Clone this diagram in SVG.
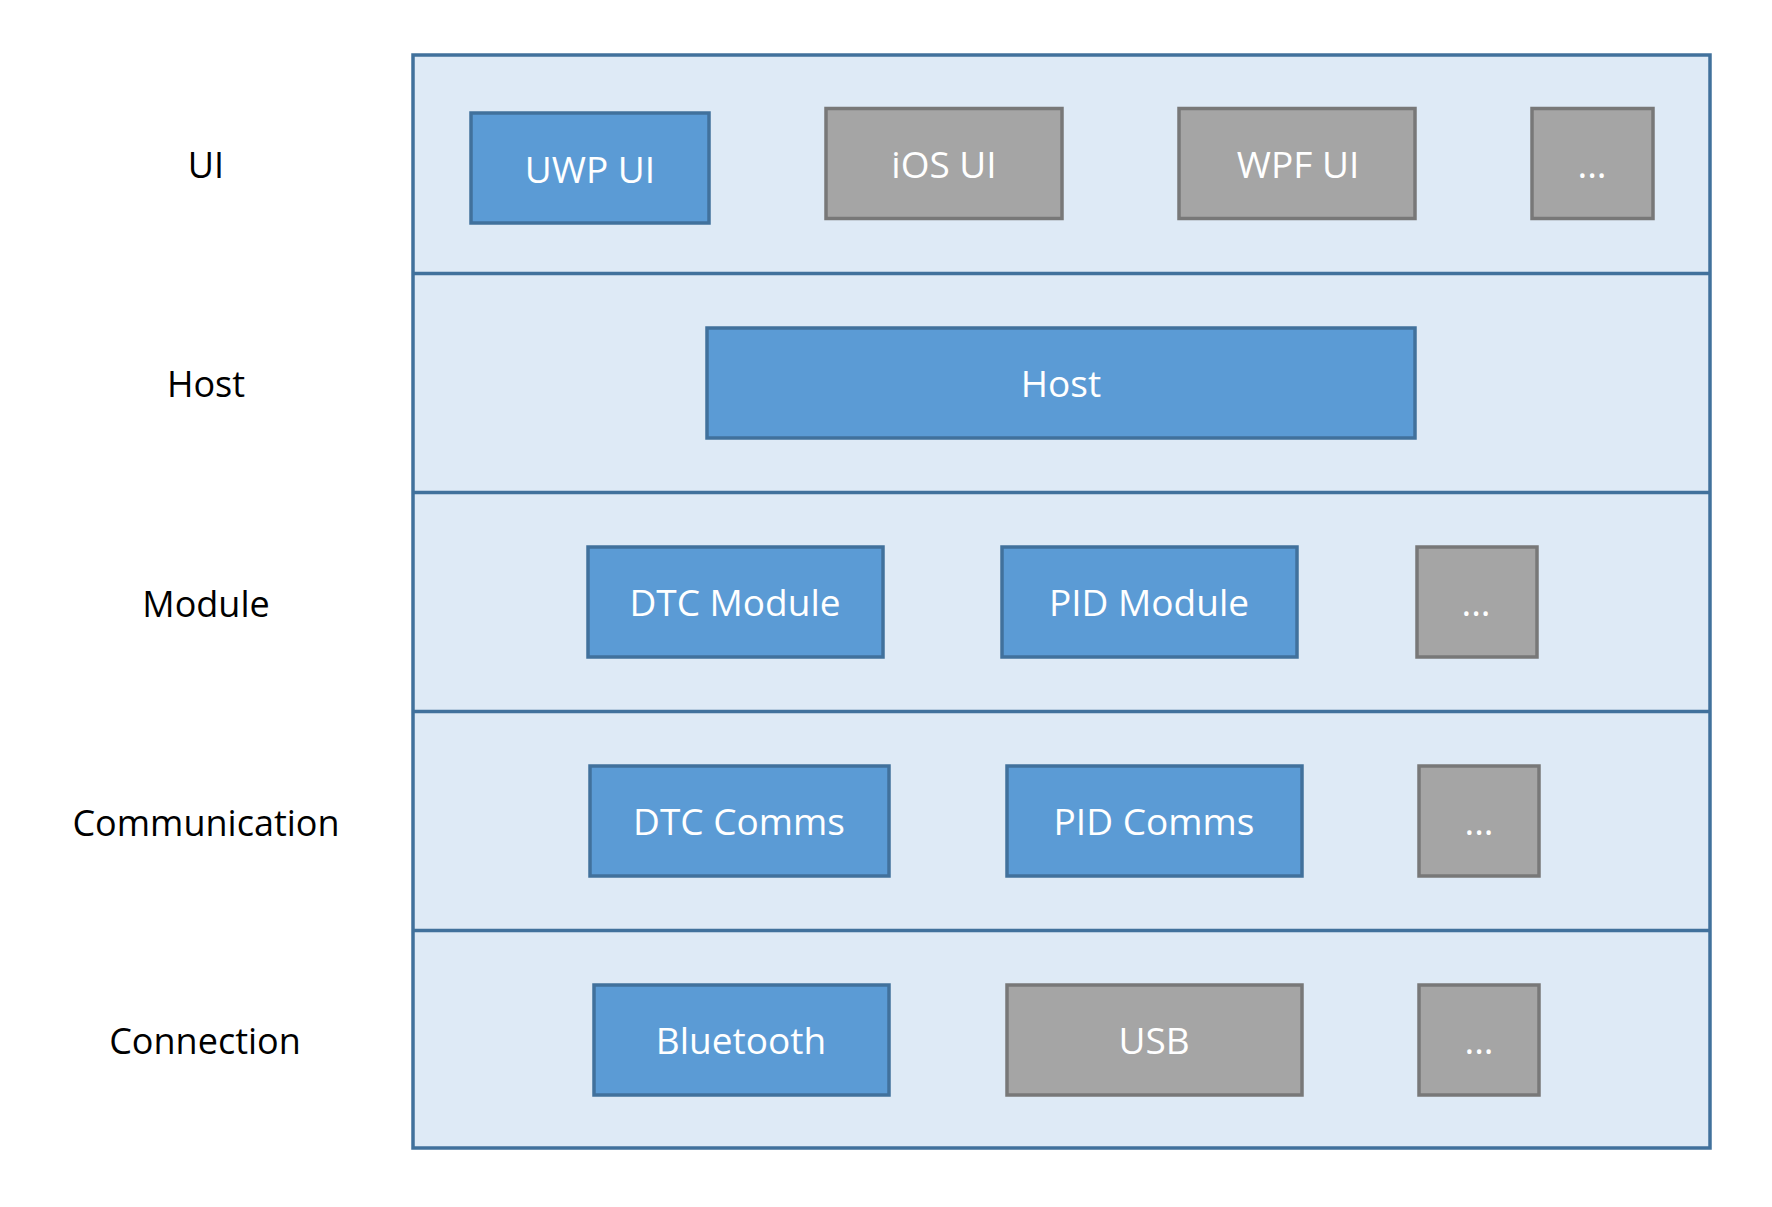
<svg xmlns="http://www.w3.org/2000/svg" width="1772" height="1207" viewBox="0 0 1772 1207">
<style>
text{font-family:"Open Sans","Noto Sans","Liberation Sans",sans-serif;font-size:36px;text-anchor:middle}
.lbl{fill:#000}
.frame{fill:#DEEAF6;stroke:#41719C;stroke-width:3.5}
.div{stroke:#41719C;stroke-width:3.5}
.blue rect{fill:#5B9BD5;stroke:#41719C;stroke-width:3.5}
.gray rect{fill:#A5A5A5;stroke:#787878;stroke-width:3.5}
.blue text,.gray text{fill:#fff;font-size:37px}
</style>
<rect width="1772" height="1207" fill="#fff"/>
<g id="layers">
<rect class="frame" x="413" y="55" width="1297" height="1093"/>
<line class="div" x1="413" y1="273.5" x2="1710" y2="273.5"/>
<line class="div" x1="413" y1="492.5" x2="1710" y2="492.5"/>
<line class="div" x1="413" y1="711.5" x2="1710" y2="711.5"/>
<line class="div" x1="413" y1="930.5" x2="1710" y2="930.5"/>
</g>
<g id="labels">
<text class="lbl" x="206" y="178">UI</text>
<text class="lbl" x="206" y="397">Host</text>
<text class="lbl" x="206" y="617">Module</text>
<text class="lbl" x="206" y="836">Communication</text>
<text class="lbl" x="205" y="1054">Connection</text>
</g>
<g id="uwp-ui" class="blue"><rect x="471" y="113" width="238" height="110"/><text x="590" y="183">UWP UI</text></g>
<g id="ios-ui" class="gray"><rect x="826" y="108.5" width="236" height="110"/><text x="944" y="178">iOS UI</text></g>
<g id="wpf-ui" class="gray"><rect x="1179" y="108.5" width="236" height="110"/><text x="1298" y="178">WPF UI</text></g>
<g id="ui-more" class="gray"><rect x="1532" y="108.5" width="121" height="110"/><text x="1592" y="178">...</text></g>
<g id="host" class="blue"><rect x="707" y="328" width="708" height="110"/><text x="1061" y="397">Host</text></g>
<g id="dtc-module" class="blue"><rect x="588" y="547" width="295" height="110"/><text x="735" y="616">DTC Module</text></g>
<g id="pid-module" class="blue"><rect x="1002" y="547" width="295" height="110"/><text x="1149" y="616">PID Module</text></g>
<g id="module-more" class="gray"><rect x="1417" y="547" width="120" height="110"/><text x="1476" y="616">...</text></g>
<g id="dtc-comms" class="blue"><rect x="590" y="766" width="299" height="110"/><text x="739" y="835">DTC Comms</text></g>
<g id="pid-comms" class="blue"><rect x="1007" y="766" width="295" height="110"/><text x="1154" y="835">PID Comms</text></g>
<g id="comms-more" class="gray"><rect x="1419" y="766" width="120" height="110"/><text x="1479" y="835">...</text></g>
<g id="bluetooth" class="blue"><rect x="594" y="985" width="295" height="110"/><text x="741" y="1054">Bluetooth</text></g>
<g id="usb" class="gray"><rect x="1007" y="985" width="295" height="110"/><text x="1154" y="1054">USB</text></g>
<g id="conn-more" class="gray"><rect x="1419" y="985" width="120" height="110"/><text x="1479" y="1054">...</text></g>
<g id="connectors"/>
</svg>
